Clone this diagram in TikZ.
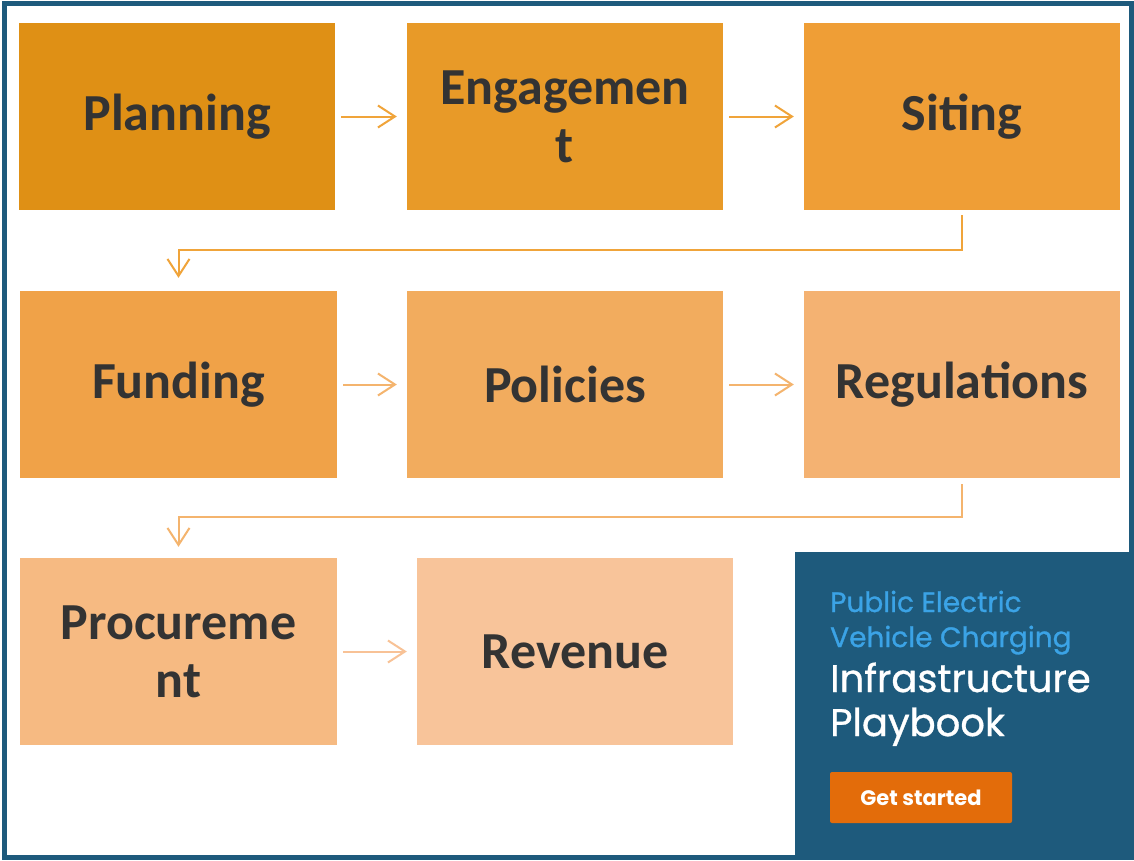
\documentclass[tikz,border=0pt]{standalone}
\usepackage{fontspec}
\setmainfont{Carlito}
\newfontfamily\panelfont{Poppins}
\newfontfamily\panelmed{Poppins}[FakeBold=0.9]
\usepackage{tikz}
\usetikzlibrary{arrows.meta}
\definecolor{frameblue}{HTML}{1E5A7C}
\definecolor{textgray}{HTML}{333333}
\definecolor{cA}{HTML}{DF9015}
\definecolor{cB}{HTML}{E89A28}
\definecolor{cC}{HTML}{EF9E36}
\definecolor{cD}{HTML}{F0A248}
\definecolor{cE}{HTML}{F2AC5E}
\definecolor{cF}{HTML}{F4B272}
\definecolor{cG}{HTML}{F6BA82}
\definecolor{cH}{HTML}{F8C49A}
\definecolor{arrA}{HTML}{F0A43A}
\definecolor{arrB}{HTML}{F4B46E}
\definecolor{arrC}{HTML}{F8C296}
\definecolor{lightblue}{HTML}{3BA3E6}
\definecolor{btnorange}{HTML}{E36C0A}

\begin{document}
\begin{tikzpicture}[x=1pt,y=-1pt]
    \tikzstyle{block} = [rectangle, minimum width=316pt, minimum height=187pt, inner sep=0pt, text width=300pt, align=center, text=textgray, font=\fontsize{52}{58}\selectfont\bfseries];
    \tikzstyle{line} = [draw, line width=2pt, shorten <=6pt, shorten >=10pt, -{Straight Barb[length=17pt, width=22pt, line width=2pt]}];
    \tikzstyle{paneltext} = [anchor=base west, inner sep=0pt];
    \useasboundingbox (0,0) rectangle (1134,860);
    \fill[white] (0,0) rectangle (1134,860);
    \draw[frameblue, line width=5pt] (4.5,3) rectangle (1131,857.5);

    \node[block, fill=cA] (planning) at (177,116.5) {Planning};
    \node[block, fill=cB] (engagement) at (565,116.5) {Engagemen\\t};
    \node[block, fill=cC] (siting) at (962,116.5) {Siting};
    \node[block, fill=cD, minimum width=317pt] (funding) at (178.5,384.5) {Funding};
    \node[block, fill=cE] (policies) at (565,384.5) {Policies};
    \node[block, fill=cF] (regulations) at (962,384.5) {Regulations};
    \node[block, fill=cG, minimum width=317pt] (procurement) at (178.5,651.5) {Procureme\\nt};
    \node[block, fill=cH] (revenue) at (575,651.5) {Revenue};

    \fill[frameblue] (795,552) rectangle (1134,860);
    \node[paneltext, text=lightblue, font=\panelmed\fontsize{28}{32}\selectfont] (publine) at (830,612) {Public Electric};
    \node[paneltext, text=lightblue, font=\panelmed\fontsize{28}{32}\selectfont] (vehline) at (830,647) {Vehicle Charging};
    \node[paneltext, text=white, font=\panelmed\fontsize{38.5}{42}\selectfont] (infline) at (830,692) {Infrastructure};
    \node[paneltext, text=white, font=\panelmed\fontsize{38.5}{42}\selectfont] (playline) at (830,736) {Playbook};
    \node[fill=btnorange, rounded corners=2pt, minimum width=182pt, minimum height=51pt, text=white, font=\panelfont\bfseries\fontsize{21}{24}\selectfont] (getstarted) at (921,797.5) {Get started};

    \tikzstyle{every path}=[line]
    \path[arrA] (planning) -- (engagement);
    \path[arrA] (engagement) -- (siting);
    \path[arrA, shorten <=5pt, shorten >=13pt] (siting.south) -- ++(0,40) -| (funding.north);
    \path[arrB] (funding) -- (policies);
    \path[arrB] (policies) -- (regulations);
    \path[arrB, shorten <=6pt, shorten >=11pt] (regulations.south) -- ++(0,39) -| (procurement.north);
    \path[arrC] (procurement) -- (revenue);
\end{tikzpicture}
\end{document}
